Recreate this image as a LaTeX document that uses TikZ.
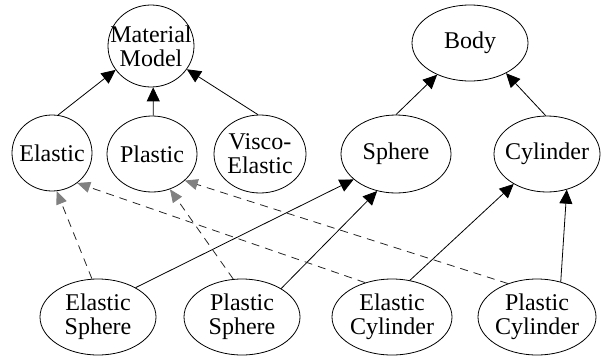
\documentclass[tikz,border=0pt]{standalone}
\usepackage{fontspec}
\setmainfont{Liberation Serif}
\usetikzlibrary{shapes.geometric,arrows.meta}
\begin{document}
\begin{tikzpicture}[x=1pt,y=-1pt,
  ent/.style 2 args={ellipse, draw, line width=0.8pt, inner sep=0pt,
    minimum width=#1pt, minimum height=#2pt},
  every label/.style={align=center, font=\fontsize{24}{24}\selectfont, inner sep=0pt},
  isa/.style={-{Triangle[length=14pt,width=13pt]}, line width=0.8pt},
  uses/.style={-{Triangle[length=13pt,width=11pt,color=black!50]},
    line width=0.8pt, dash pattern=on 8pt off 6pt, draw=black!85}]
\useasboundingbox (0,0) rectangle (601,356);

% abstract bases
\node[ent={86}{82}, label={center:Material\\Model}] (mm) at (151,46) {};
\node[ent={116}{76}, label={center:Body}] (body) at (470,43) {};

% material kinds and body shapes
\node[ent={80}{76}, label={center:Elastic}] (el) at (52,153) {};
\node[ent={90}{76}, label={center:Plastic}] (pl) at (152,154) {};
\node[ent={92}{78}, label={center:Visco-\\Elastic}] (ve) at (260,154) {};
\node[ent={110}{78}, label={center:Sphere}] (sp) at (396,154) {};
\node[ent={106}{76}, label={center:Cylinder}] (cy) at (547,154) {};

% concrete combinations
\node[ent={116}{76}, label={center:Elastic\\Sphere}] (es) at (98,317) {};
\node[ent={116}{76}, label={center:Plastic\\Sphere}] (ps) at (242,317) {};
\node[ent={120}{76}, label={center:Elastic\\Cylinder}] (ec) at (392,317) {};
\node[ent={118}{76}, label={center:Plastic\\Cylinder}] (pc) at (537,317) {};

% inheritance
\draw[isa] (el.81) -- (mm.-146);
\draw[isa] (pl.88) -- (mm.-87);
\draw[isa] (ve.93) -- (mm.-33);
\draw[isa] (sp.90) -- (body.-136);
\draw[isa] (cy.92) -- (body.-40);
\draw[isa] (es.38) -- (sp.-149);
\draw[isa] (ps.36) -- (sp.-117);
\draw[isa] (ec.64) -- (cy.-138);
\draw[isa] (pc.56) -- (cy.-61);

% material usage
\draw[uses] (es.99) -- (el.-83);
\draw[uses] (ec.128) -- (el.-50);
\draw[uses] (ps.103) -- (pl.-63);
\draw[uses] (pc.131) -- (pl.-39);
\end{tikzpicture}
\end{document}
